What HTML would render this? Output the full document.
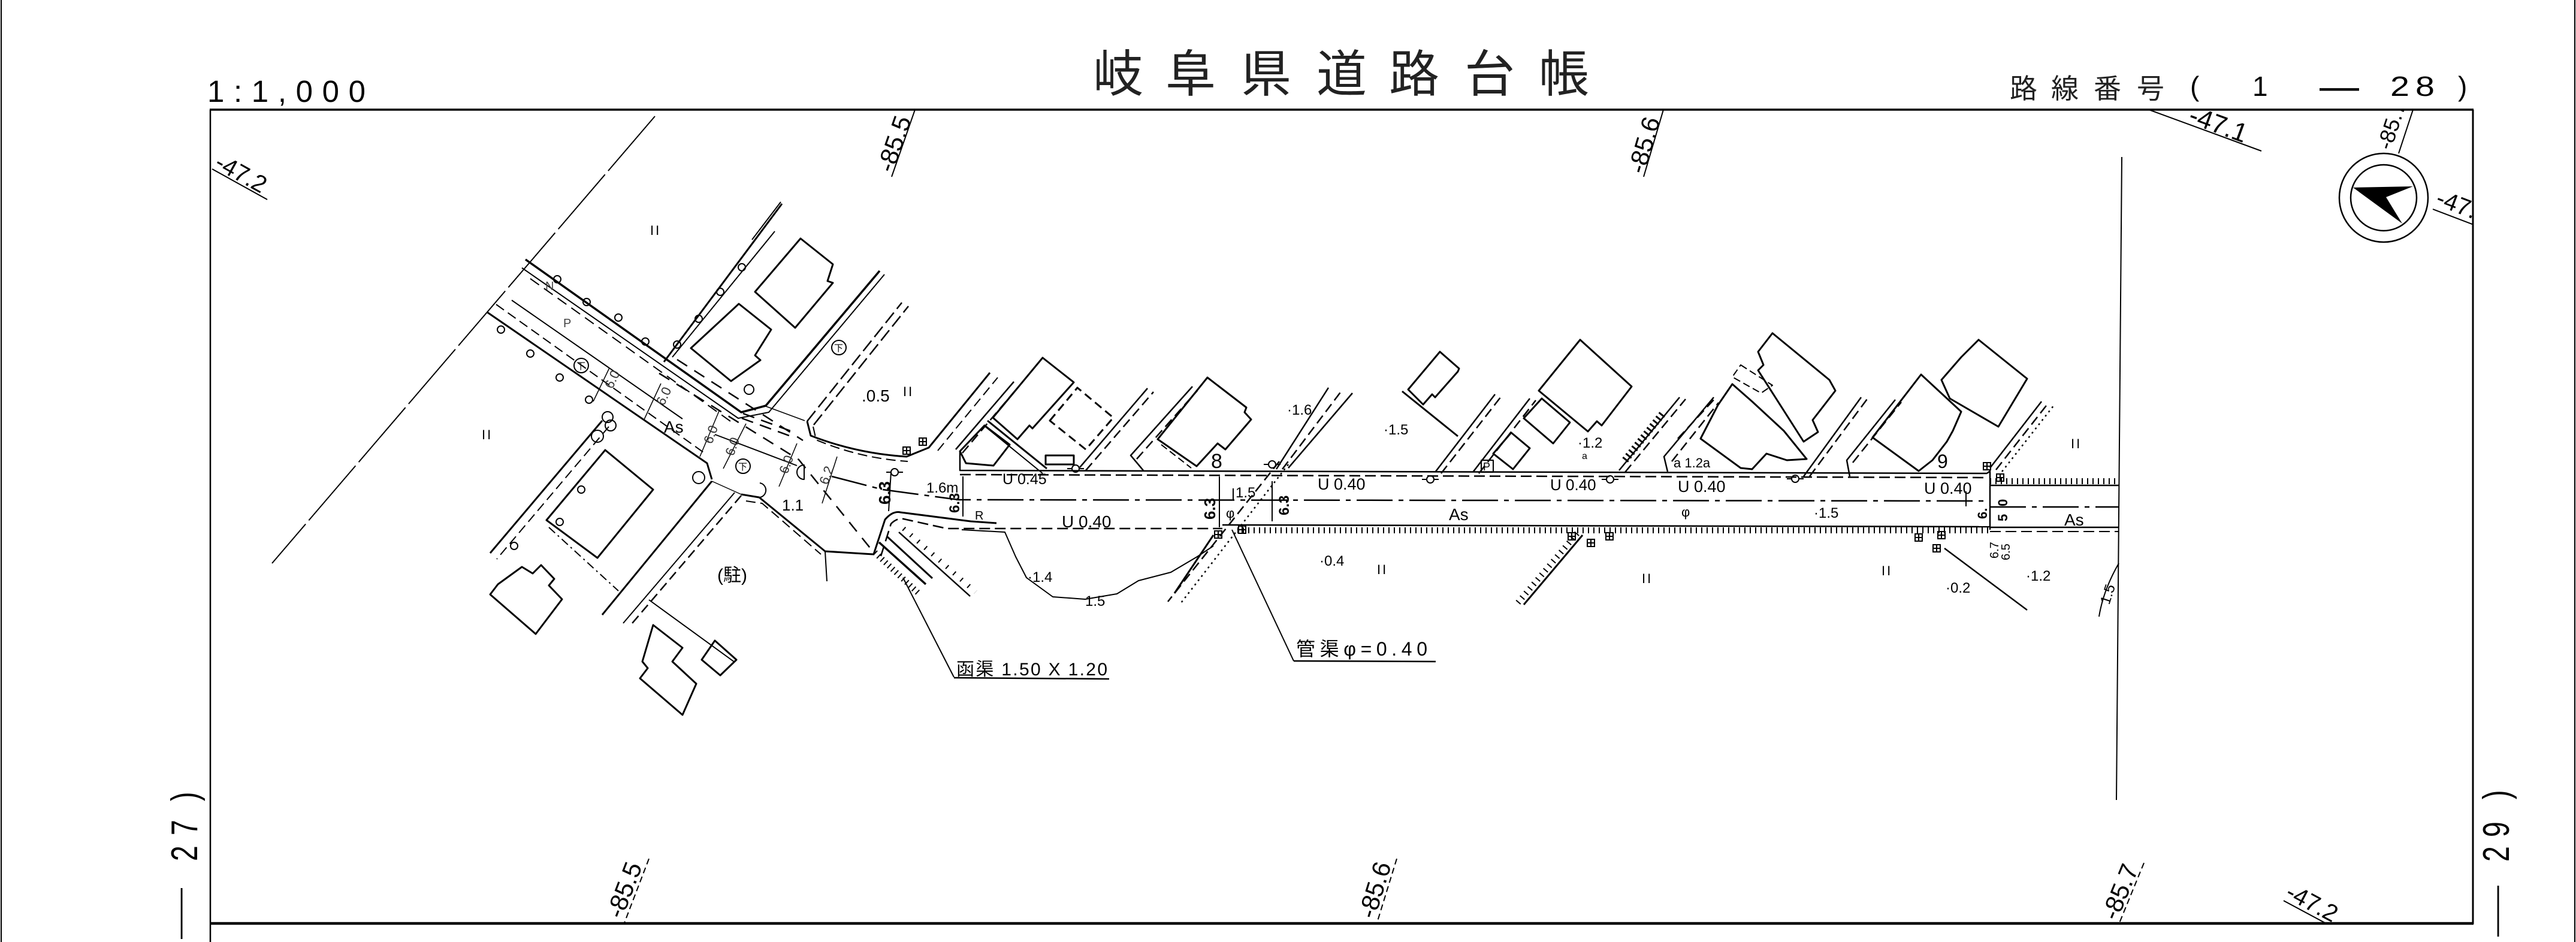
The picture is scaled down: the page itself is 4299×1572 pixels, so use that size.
<!DOCTYPE html>
<html><head><meta charset="utf-8">
<style>
html,body{margin:0;padding:0;background:#fff;}
svg{display:block;}
text{font-family:"Liberation Sans","Noto Sans CJK JP",sans-serif;fill:#000;stroke:none;}
</style></head><body>
<svg width="4299" height="1572" viewBox="0 0 4299 1572" xmlns="http://www.w3.org/2000/svg">
<defs>
<clipPath id="fr"><rect x="352" y="184" width="3774" height="1356"/></clipPath>
<g id="ta" fill="none" stroke="#000" stroke-width="2"><rect x="-6" y="-6" width="12" height="12"/><path d="M-6,0H6M0,-6V6"/></g>
<g id="oc" fill="none" stroke="#000" stroke-width="2"><circle r="6"/><path d="M-14,0H-6M6,0H14"/></g>
</defs>
<rect width="4299" height="1572" fill="#fff"/>

<!-- frame -->
<g stroke="#000" fill="none">
<line x1="2" y1="0" x2="2" y2="1572" stroke-width="2"/>
<line x1="4297" y1="0" x2="4297" y2="1572" stroke-width="2"/>
<line x1="350" y1="183" x2="4128" y2="183" stroke-width="3.5"/>
<line x1="351" y1="183" x2="351" y2="1572" stroke-width="2.5"/>
<line x1="4127" y1="183" x2="4127" y2="1542" stroke-width="3"/>
<line x1="350" y1="1541" x2="4128" y2="1541" stroke-width="4.5"/>
</g>

<!-- header texts -->
<text x="346" y="170" font-size="51" textLength="264" lengthAdjust="spacing">1:1,000</text>
<g font-size="84" style="fill:#222">
<text x="1824" y="153" style="fill:#222">岐</text>
<text x="1945" y="153" style="fill:#222">阜</text>
<text x="2071" y="153" style="fill:#222">県</text>
<text x="2197" y="153" style="fill:#222">道</text>
<text x="2318" y="153" style="fill:#222">路</text>
<text x="2444" y="153" style="fill:#222">台</text>
<text x="2568" y="153" style="fill:#222">帳</text>
</g>
<g font-size="46">
<text x="3354" y="164" style="fill:#222">路</text>
<text x="3423" y="164" style="fill:#222">線</text>
<text x="3494" y="164" style="fill:#222">番</text>
<text x="3566" y="164" style="fill:#222">号</text>
<text x="3655" y="160">(</text>
<text x="3759" y="160">1</text>
<text x="3989" y="160" textLength="32" lengthAdjust="spacingAndGlyphs">2</text>
<text x="4031" y="160" textLength="32" lengthAdjust="spacingAndGlyphs">8</text>
<text x="4102" y="160">)</text>
</g>
<text x="3871" y="166" font-size="66">—</text>

<!-- side labels -->
<g font-size="62">
<text transform="translate(329,1437) rotate(-90) scale(0.75,1)">2</text>
<text transform="translate(329,1394) rotate(-90) scale(0.75,1)">7</text>
<text transform="translate(329,1337) rotate(-90) scale(0.75,1)">)</text>
<text transform="translate(4187,1438) rotate(-90) scale(0.75,1)">2</text>
<text transform="translate(4187,1397) rotate(-90) scale(0.75,1)">9</text>
<text transform="translate(4187,1334) rotate(-90) scale(0.75,1)">)</text>
</g>
<text font-size="85" transform="translate(314,1567) rotate(-90) scale(1,0.5)">—</text>
<text font-size="85" transform="translate(4180,1563) rotate(-90) scale(1,0.5)">—</text>

<!-- compass -->
<g stroke="#000" fill="none" stroke-width="2.5">
<circle cx="3978" cy="330" r="74"/>
<circle cx="3978" cy="330" r="55"/>
</g>
<polygon points="3927,313 4027,311 3982,329 4009,373" fill="#000"/>

<!-- grid lines and labels -->
<g clip-path="url(#fr)">
<g stroke="#000" fill="none" stroke-width="2">
<line x1="1527" y1="183" x2="1488" y2="295"/>
<line x1="2776" y1="183" x2="2743" y2="295"/>
<line x1="4027" y1="183" x2="4003" y2="256"/>
<line x1="354" y1="282" x2="446" y2="333"/>
<line x1="3586" y1="183" x2="3774" y2="252"/>
<line x1="4060" y1="349" x2="4128" y2="375"/>
<line x1="1083" y1="1433" x2="1042" y2="1540" stroke-dasharray="10 6"/>
<line x1="2331" y1="1433" x2="2298" y2="1540" stroke-dasharray="10 6"/>
<line x1="3578" y1="1440" x2="3537" y2="1540" stroke-dasharray="10 6"/>
<line x1="3811" y1="1503" x2="3880" y2="1540"/>
</g>
<g font-size="42">
<text transform="translate(1490,290) rotate(-70.8)">-85.5</text>
<text transform="translate(2744,292) rotate(-73.6)">-85.6</text>
<text transform="translate(3990,252) rotate(-71.8)" font-size="36">-85.7</text>
<text transform="translate(356,279) rotate(29)" font-size="40">-47.2</text>
<text transform="translate(3650,204) rotate(20.2)" font-size="44">-47.1</text>
<text transform="translate(4063,341) rotate(20.9)" font-size="40">-47.1</text>
<text transform="translate(1038,1535) rotate(-69)">-85.5</text>
<text transform="translate(2294,1535) rotate(-72.9)">-85.6</text>
<text transform="translate(3533,1538) rotate(-67.7)">-85.7</text>
<text transform="translate(3812,1497) rotate(28)" font-size="40">-47.2</text>
</g>
</g>

<!-- drawing -->
<g clip-path="url(#fr)" stroke="#000" fill="none" stroke-width="2.5" stroke-linejoin="round">
<!-- boundary dash line -->
<line x1="1093" y1="194" x2="454" y2="940" stroke-dasharray="120 8" stroke-width="2"/>
<!-- right vertical -->
<line x1="3541" y1="262" x2="3532" y2="1335" stroke-width="2"/>

<!-- Road A north edge + NE arm west edge -->
<polyline points="877,433 1237,688 1278,677 1468,452" stroke-width="3.5"/>
<polyline points="871,447 1232,698 1283,688 1476,458" stroke-width="2"/>
<line x1="885" y1="465" x2="1226" y2="708" stroke-dasharray="18 10" stroke-width="2"/>
<!-- Road A south edge -->
<polyline points="813,521 1180,773 1188,800" stroke-width="3"/>
<line x1="828" y1="508" x2="1177" y2="757" stroke-dasharray="16 8" stroke-width="2"/>
<!-- centre lines -->
<line x1="854" y1="501" x2="1139" y2="699" stroke-width="2"/>
<line x1="1193" y1="725" x2="1330" y2="777" stroke-width="2"/>
<polyline points="1388,795 1473,817 1600,834 3321,836" stroke-dasharray="60 10 8 10" stroke-width="2.5"/>
<line x1="3321" y1="846" x2="3536" y2="846" stroke-dasharray="60 10 8 10" stroke-width="2.5"/>
<!-- intersection dashes -->
<polyline points="1100,623 1333,767 1455,918" stroke-dasharray="20 14" stroke-width="2.5"/>
<polyline points="1130,600 1340,735" stroke-dasharray="20 14" stroke-width="2.5"/>
<line x1="1240" y1="690" x2="1330" y2="723" stroke-dasharray="20 12"/>
<line x1="1238" y1="698" x2="1328" y2="731" stroke-dasharray="20 12"/>
<line x1="1278" y1="678" x2="1343" y2="702" stroke-width="1.5"/>
<!-- 6.0 dimension lines -->
<g stroke-width="1.5">
<line x1="1168" y1="762" x2="1200" y2="686"/>
<line x1="1207" y1="782" x2="1245" y2="707"/>
<line x1="1300" y1="812" x2="1330" y2="740"/>
<line x1="1372" y1="840" x2="1397" y2="762"/>
<line x1="990" y1="670" x2="1017" y2="614"/>
<line x1="1075" y1="700" x2="1103" y2="640"/>
</g>
<!-- NE arm east edge -->
<line x1="1347" y1="703" x2="1505" y2="505" stroke-dasharray="22 8"/>
<line x1="1358" y1="709" x2="1516" y2="511" stroke-dasharray="22 8"/>
<!-- lot line north block -->
<line x1="1305" y1="340" x2="1108" y2="604" stroke-width="3"/>
<line x1="1293" y1="386" x2="1122" y2="596" stroke-width="2"/>
<!-- main road north edge west bend -->
<path d="M1347,703 L1353,727 Q1430,757 1513,762 L1550,747 L1652,622" stroke-width="3"/>
<path d="M1357,712 L1362,734 Q1436,765 1515,770" stroke-dasharray="16 8" stroke-width="2"/>
<line x1="1565" y1="752" x2="1665" y2="630" stroke-dasharray="16 8" stroke-width="2"/>
<!-- main road top edge -->
<polyline points="1602,753 1602,785 3316,790" stroke-width="2.5"/>
<line x1="1602" y1="792" x2="3316" y2="797" stroke-dasharray="18 8" stroke-width="2.5"/>
<polyline points="3316,790 3321,786 3321,884" stroke-width="2.5"/>
<line x1="3321" y1="810" x2="3536" y2="810" stroke-width="2.5"/>
<line x1="3321" y1="803" x2="3536" y2="803" stroke-width="10" stroke-dasharray="2 7"/>
<!-- main road bottom edge -->
<path d="M1458,925 L1477,867 Q1490,852 1503,855 L1620,870 L1663,873" stroke-width="3"/>
<path d="M1470,928 L1487,874 Q1497,864 1508,866 L1580,882 L2040,882" stroke-dasharray="18 8" stroke-width="2.5"/>
<line x1="2040" y1="876" x2="3321" y2="879" stroke-width="2.5"/>
<line x1="2065" y1="885" x2="3321" y2="885" stroke-width="10" stroke-dasharray="2 7"/>
<line x1="3321" y1="880" x2="3536" y2="880" stroke-width="2.5"/>
<line x1="3321" y1="887" x2="3536" y2="887" stroke-dasharray="18 8" stroke-width="2"/>
<!-- dimension lines -->
<g stroke-width="2">
<line x1="1487" y1="787" x2="1483" y2="853"/>
<line x1="1607" y1="795" x2="1607" y2="862"/>
<line x1="2035" y1="795" x2="2035" y2="880"/>
<line x1="2123" y1="803" x2="2123" y2="870"/>
<line x1="2058" y1="815" x2="2058" y2="835"/>
<line x1="3281" y1="820" x2="3281" y2="845"/>
</g>
<!-- diagonal pipe crossing -->
<line x1="2135" y1="770" x2="1949" y2="1004" stroke-dasharray="16 8"/>
<line x1="2150" y1="775" x2="1971" y2="1006" stroke-dasharray="3 6"/>
<line x1="2025" y1="893" x2="1960" y2="990" stroke-width="3"/>
<!-- SW arm -->
<line x1="1005" y1="702" x2="818" y2="923" stroke-width="3"/>
<line x1="1016" y1="712" x2="829" y2="933" stroke-dasharray="16 8" stroke-width="2"/>
<line x1="1188" y1="803" x2="1005" y2="1026" stroke-width="3"/>
<line x1="1237" y1="827" x2="1050" y2="1046" stroke-dasharray="16 8" stroke-width="2.5"/>
<line x1="1226" y1="822" x2="1040" y2="1040" stroke-width="2"/>
<line x1="916" y1="880" x2="1032" y2="986" stroke-dasharray="14 6 3 6" stroke-width="2"/>
<!-- intersection south -->
<polyline points="1188,803 1237,825" stroke-width="1.5"/>
<polyline points="1237,825 1267,830 1377,920 1457,925" stroke-width="3"/>
<polyline points="1245,836 1272,840 1370,925" stroke-dasharray="16 8" stroke-width="2"/>
<line x1="1377" y1="920" x2="1380" y2="970" stroke-width="2"/>
<!-- culvert -->
<line x1="1467" y1="905" x2="1545" y2="975" stroke-width="3.5"/>
<line x1="1480" y1="895" x2="1556" y2="965" stroke-width="3"/>
<line x1="1460" y1="922" x2="1535" y2="992" stroke-width="10" stroke-dasharray="2 6"/>
<line x1="1500" y1="888" x2="1619" y2="995" stroke-width="2.5"/>
<line x1="1508" y1="882" x2="1628" y2="988" stroke-width="8" stroke-dasharray="2 14"/>
<line x1="1507" y1="964" x2="1592" y2="1130" stroke-width="2"/>
<line x1="1592" y1="1131" x2="1851" y2="1133" stroke-width="2.5"/>
<!-- contour -->
<polyline points="1605,884 1677,888 1695,929 1713,964 1757,996 1811,1000 1864,991 1900,969 1954,955 1998,929 2025,911" stroke-width="2"/>
<!-- kan-kyo leader -->
<line x1="2056" y1="884" x2="2159" y2="1103" stroke-width="2"/>
<line x1="2159" y1="1103" x2="2396" y2="1104" stroke-width="2.5"/>
<!-- hatched diag lines south -->
<line x1="2641" y1="893" x2="2543" y2="1009" stroke-width="3"/>
<line x1="2632" y1="890" x2="2533" y2="1006" stroke-width="10" stroke-dasharray="2 8"/>
<line x1="3245" y1="915" x2="3383" y2="1018" stroke-width="2.5"/>
<path d="M3536,940 Q3510,985 3503,1029" stroke-width="2"/>

<!-- lot lines -->
<g stroke-width="2.5">
<line x1="1595" y1="750" x2="1692" y2="637"/>
<line x1="1606" y1="756" x2="1700" y2="645" stroke-dasharray="16 8"/>
<line x1="1802" y1="780" x2="1915" y2="648"/>
<line x1="1812" y1="785" x2="1925" y2="654" stroke-dasharray="16 8"/>
<polyline points="1908,785 1887,760 1990,645"/>
<line x1="1897" y1="766" x2="1998" y2="652" stroke-dasharray="16 8"/>
<line x1="2130" y1="783" x2="2217" y2="647"/>
<line x1="2140" y1="783" x2="2239" y2="652" stroke-dasharray="16 8"/>
<line x1="2150" y1="781" x2="2257" y2="656"/>
<line x1="2395" y1="788" x2="2495" y2="658"/>
<line x1="2405" y1="790" x2="2505" y2="662" stroke-dasharray="16 8"/>
<line x1="2458" y1="788" x2="2553" y2="665"/>
<line x1="2468" y1="790" x2="2563" y2="668" stroke-dasharray="16 8"/>
<line x1="2702" y1="785" x2="2803" y2="663"/>
<line x1="2712" y1="788" x2="2813" y2="666" stroke-dasharray="16 8"/>
<line x1="2712" y1="768" x2="2775" y2="690" stroke-width="12" stroke-dasharray="3 5"/>
<polyline points="2783,787 2777,762 2860,663"/>
<line x1="2790" y1="770" x2="2868" y2="672" stroke-dasharray="16 8"/>
<line x1="3010" y1="795" x2="3106" y2="663"/>
<line x1="3020" y1="795" x2="3116" y2="666" stroke-dasharray="16 8"/>
<polyline points="3087,795 3082,768 3163,667"/>
<line x1="3092" y1="772" x2="3173" y2="671" stroke-dasharray="16 8"/>
<line x1="3321" y1="781" x2="3407" y2="670"/>
<line x1="3331" y1="784" x2="3418" y2="673" stroke-dasharray="16 8"/>
<line x1="3341" y1="787" x2="3428" y2="676" stroke-dasharray="3 6"/>
<line x1="2800" y1="732" x2="2862" y2="665" stroke-dasharray="16 8"/>
<line x1="1648" y1="702" x2="1747" y2="782" stroke-width="3"/>
<line x1="1642" y1="710" x2="1740" y2="790" stroke-width="2"/>
<line x1="2340" y1="653" x2="2433" y2="728" stroke-width="3"/>
<line x1="1303" y1="337" x2="1255" y2="400" stroke-width="2"/>
</g>

<!-- buildings -->
<g stroke-width="3">
<polygon points="1336,398 1390,441 1381,469 1390,472 1327,547 1260,487"/>
<polygon points="1233,507 1287,550 1260,593 1269,601 1220,636 1153,581"/>
<polygon points="1010,751 1090,817 997,931 912,868"/>
<polygon points="871,946 889,957 903,943 925,966 916,977 938,1000 894,1058 818,992 831,975"/>
<polygon points="1090,1043 1139,1081 1122,1104 1162,1141 1139,1193 1068,1132 1081,1115 1072,1104"/>
<polygon points="1193,1069 1229,1101 1202,1127 1171,1101"/>
<line x1="1083" y1="1001" x2="1226" y2="1105" stroke-width="2"/>
<polygon points="1602,753 1643,710 1685,742 1658,777 1612,773"/>
<polygon points="1657,697 1740,597 1792,638 1723,715 1718,710 1698,733"/>
<polygon points="1752,702 1798,647 1858,697 1812,750" stroke-dasharray="14 8"/>
<rect x="1745" y="760" width="47" height="15"/>
<polygon points="1932,733 2015,630 2080,680 2077,688 2088,700 2045,750 2032,740 1997,778"/>
<line x1="1938" y1="742" x2="1988" y2="781" stroke-dasharray="12 6" stroke-width="2"/>
<polygon points="2350,650 2403,587 2435,615 2433,620 2395,663 2390,658 2375,675"/>
<polygon points="2492,757 2522,722 2553,748 2525,783"/>
<polygon points="2543,698 2573,665 2620,705 2592,740"/>
<polygon points="2568,652 2637,567 2723,645 2673,710 2665,703 2650,720"/>
<polygon points="2958,556 3053,634 3063,652 3025,701 3034,721 3010,737 2934,618 2943,609 2934,587"/>
<polygon points="2891,641 2924,670 2977,719 3015,766 2982,768 2948,757 2924,783 2905,781 2838,732 2867,676"/>
<polygon points="2905,609 2958,643 2939,656 2891,629" stroke-dasharray="12 6" stroke-width="2"/>
<polygon points="3206,625 3273,687 3259,719 3249,737 3225,768 3202,786 3125,730"/>
<polygon points="3302,567 3383,632 3359,672 3335,712 3254,665 3240,634 3273,596"/>
<rect x="2472" y="768" width="20" height="20" stroke-width="2"/>
</g>

<!-- trees -->
<g stroke-width="2">
<circle cx="930" cy="466" r="6"/><circle cx="979" cy="504" r="6"/><circle cx="1032" cy="530" r="6"/><circle cx="1077" cy="570" r="6"/>
<circle cx="1238" cy="446" r="6"/><circle cx="1202" cy="487" r="6"/><circle cx="1166" cy="532" r="6"/><circle cx="1130" cy="575" r="6"/>
<circle cx="836" cy="550" r="6"/><circle cx="885" cy="590" r="6"/><circle cx="934" cy="630" r="6"/><circle cx="983" cy="667" r="6"/>
<circle cx="1014" cy="696" r="9"/><circle cx="1019" cy="710" r="9"/><circle cx="997" cy="728" r="10"/><circle cx="1166" cy="797" r="10"/>
<circle cx="970" cy="817" r="6"/><circle cx="934" cy="871" r="6"/><circle cx="858" cy="911" r="6"/>
<circle cx="1250" cy="650" r="8"/>
<circle cx="970" cy="610" r="12"/><circle cx="1400" cy="580" r="12"/><circle cx="1240" cy="778" r="12"/>
<path d="M1342,800 a12,12 0 0 1 0,-24 z"/>
<path d="M1268,806 a12,12 0 0 1 -4,24"/>
</g>
</g>

<!-- symbols -->
<g clip-path="url(#fr)">
<use href="#ta" x="1513" y="752"/><use href="#ta" x="1540" y="737"/>
<use href="#ta" x="2073" y="884"/><use href="#ta" x="2033" y="892"/>
<use href="#ta" x="2623" y="895"/><use href="#ta" x="2655" y="906"/><use href="#ta" x="2686" y="895"/>
<use href="#ta" x="3202" y="897"/><use href="#ta" x="3240" y="893"/><use href="#ta" x="3232" y="915"/>
<use href="#ta" x="3316" y="778"/><use href="#ta" x="3338" y="797"/>
<use href="#oc" x="2123" y="775"/><use href="#oc" x="2387" y="800"/><use href="#oc" x="2687" y="800"/>
<use href="#oc" x="2996" y="799"/><use href="#oc" x="1795" y="782"/><use href="#oc" x="1493" y="788"/>
</g>

<!-- drawing texts -->
<g clip-path="url(#fr)">
<g font-size="15"><text x="962" y="616">下</text><text x="1392" y="586">下</text><text x="1232" y="784">下</text></g>
<g font-size="22" letter-spacing="3">
<text x="1085" y="392">II</text><text x="804" y="733">II</text><text x="1507" y="661">II</text>
<text x="2298" y="958">II</text><text x="2740" y="973">II</text><text x="3140" y="960">II</text><text x="3456" y="748">II</text>
</g>
<text x="910" y="484" font-size="20" style="fill:#444">N</text>
<text x="940" y="546" font-size="20" style="fill:#444">P</text>
<text x="1108" y="722" font-size="28">As</text>
<text x="2418" y="868" font-size="28">As</text>
<text x="3445" y="877" font-size="28">As</text>
<text x="1438" y="670" font-size="28">.0.5</text>
<text x="1197" y="970" font-size="30">(駐)</text>
<text x="1305" y="852" font-size="26">1.1</text>
<text x="1546" y="822" font-size="24">1.6m</text>
<text x="1627" y="867" font-size="20">R</text>
<text x="1673" y="808" font-size="25">U 0.45</text>
<text x="1772" y="880" font-size="28">U 0.40</text>
<text x="2199" y="817" font-size="27">U 0.40</text>
<text x="2587" y="818" font-size="26">U 0.40</text>
<text x="2800" y="821" font-size="27">U 0.40</text>
<text x="3211" y="824" font-size="27">U 0.40</text>
<text x="2021" y="781" font-size="34">8</text>
<text x="3233" y="781" font-size="32">9</text>
<text x="2148" y="692" font-size="24">·1.6</text>
<text x="2309" y="725" font-size="24">·1.5</text>
<text x="2633" y="747" font-size="24">·1.2</text>
<text x="2640" y="766" font-size="16">a</text>
<text x="2793" y="780" font-size="22">a 1.2a</text>
<text x="2202" y="944" font-size="24">·0.4</text>
<text x="1715" y="971" font-size="24">·1.4</text>
<text x="1811" y="1011" font-size="24">1.5</text>
<text x="3381" y="969" font-size="24">·1.2</text>
<text x="3247" y="989" font-size="24">·0.2</text>
<text x="3027" y="864" font-size="24">·1.5</text>
<text x="2062" y="830" font-size="24">1.5</text>
<text x="2046" y="864" font-size="22">φ</text>
<text x="2806" y="862" font-size="22">φ</text>
<text transform="translate(3520,1010) rotate(-72)" font-size="24">1.5</text>
<text transform="translate(1486,842) rotate(-90)" font-size="28" font-weight="bold">6.3</text>
<text transform="translate(1601,856) rotate(-90)" font-size="24" font-weight="bold">6.3</text>
<text transform="translate(2028,867) rotate(-90)" font-size="26" font-weight="bold">6.3</text>
<text transform="translate(2151,860) rotate(-90)" font-size="24" font-weight="bold">6.3</text>
<text transform="translate(3316,866) rotate(-90)" font-size="22" font-weight="bold">6.</text>
<text transform="translate(3350,845) rotate(-90)" font-size="22" font-weight="bold">0</text>
<text transform="translate(3350,870) rotate(-90)" font-size="22" font-weight="bold">5</text>
<text transform="translate(3335,932) rotate(-90)" font-size="20">6.7</text>
<text transform="translate(3354,935) rotate(-90)" font-size="20">6.5</text>
<g font-size="22">
<text transform="translate(1188,742) rotate(-70)" style="fill:#333">6.0</text>
<text transform="translate(1224,762) rotate(-70)" style="fill:#333">6.0</text>
<text transform="translate(1314,792) rotate(-70)" style="fill:#333">6.0</text>
<text transform="translate(1381,810) rotate(-70)" style="fill:#333">6.2</text>
<text transform="translate(1022,650) rotate(-65)" style="fill:#333">6.0</text>
<text transform="translate(1108,678) rotate(-65)" style="fill:#333">6.0</text>
</g>
<text x="2475" y="785" font-size="18">P</text>
<text x="2163" y="1094" font-size="32" textLength="219" lengthAdjust="spacing">管渠φ=0.40</text>
<text x="1596" y="1127" font-size="30" textLength="252" lengthAdjust="spacing">函渠 1.50 X 1.20</text>
</g>
</svg>
</body></html>
